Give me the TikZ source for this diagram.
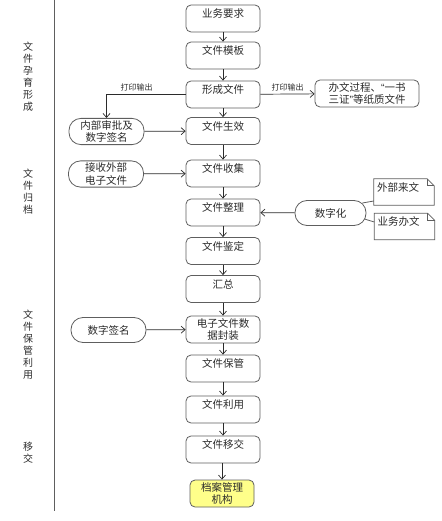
\documentclass[tikz,border=0pt]{standalone}
\usepackage{fontspec}
\setmainfont{Noto Sans CJK SC}
\newfontfamily\latinq{Liberation Sans}
\usetikzlibrary{arrows.meta}
\definecolor{boxline}{HTML}{5E5E5E}
\definecolor{archyel}{HTML}{FFFF8A}
\definecolor{inkgray}{HTML}{2B2B2B}

\begin{document}
\begin{tikzpicture}[
  x=1pt, y=-1pt,
  flow/.style={draw=inkgray, line width=0.7pt, -{Straight Barb[length=4pt, width=7pt]}},
  mainbox/.style={draw=boxline, line width=0.8pt, rounded corners=5pt, minimum width=74pt,
                  minimum height=27pt, inner ysep=2pt, align=center, text=inkgray,
                  font=\fontsize{10.5}{12.5}\selectfont},
  onebox/.style={mainbox, text height=9pt, text depth=10.5pt},
  sidebox/.style={draw=boxline, line width=0.8pt, rounded corners=12pt, minimum width=75pt,
                  minimum height=25pt, inner sep=2pt, align=center, text=inkgray,
                  font=\fontsize{10.5}{12.5}\selectfont},
  docbox/.style={minimum width=60pt, minimum height=26pt, text width=54pt, inner xsep=3pt,
                 inner ysep=2pt, align=left, text height=9pt, text depth=10.5pt, text=inkgray,
                 font=\fontsize{10.5}{12.5}\selectfont},
  docline/.style={draw=boxline, line width=0.8pt},
  stage/.style={align=center, text=inkgray, font=\fontsize{10}{12}\selectfont},
  printlbl/.style={inner sep=1pt, text=inkgray, font=\fontsize{8}{9}\selectfont},
]
\useasboundingbox (0,0) rectangle (441,521);

% Stage column
\draw[boxline, line width=0.9pt] (54,0) -- (54,511);
\node[stage] (st1) at (28,77) {文\\件\\孕\\育\\形\\成};
\node[stage] (st2) at (28,192) {文\\件\\归\\档};
\node[stage] (st3) at (28,345) {文\\件\\保\\管\\利\\用};
\node[stage] (st4) at (28,453) {移\\交};

% ============ Main flow ============
\node[onebox] (req) at (223,18.5) {业务要求};
\node[onebox] (tmpl) at (223,55.5) {文件模板};
\node[onebox] (form) at (223,94.5) {形成文件};
\node[onebox] (valid) at (223,131) {文件生效};
\node[onebox] (collect) at (223,173.5) {文件收集};
\node[onebox] (arrange) at (223,212.5) {文件整理};
\node[onebox] (appraise) at (223,251) {文件鉴定};
\node[onebox] (summ) at (223,289) {汇总};
\node[mainbox] (pack) at (223,329.5) {电子文件数\\据封装};
\node[onebox] (store) at (223,368.5) {文件保管};
\node[onebox] (use) at (223,409.5) {文件利用};
\node[onebox] (transfer) at (223,449.5) {文件移交};
\node[mainbox, fill=archyel, minimum width=64pt] (archive) at (222,493.5) {档案管理\\机构};

\draw[flow] (req) -- (tmpl);
\draw[flow] (tmpl) -- (form);
\draw[flow] (form) -- (valid);
\draw[flow] (valid) -- (collect);
\draw[flow] (collect) -- (arrange);
\draw[flow] (arrange) -- (appraise);
\draw[flow] (appraise) -- (summ);
\draw[flow] (summ) -- (pack);
\draw[flow] (pack) -- (store);
\draw[flow] (store) -- (use);
\draw[flow] (use) -- (transfer);
\draw[flow] ([xshift=-1pt]transfer.south) -- (archive);

% ============ Side inputs ============
\node[sidebox] (approve) at (106.5,131.5) {内部审批及\\数字签名};
\node[sidebox] (receive) at (106,174) {接收外部\\电子文件};
\node[sidebox] (sign) at (108.5,330) {数字签名};
\node[sidebox, minimum width=71pt] (digit) at (330.5,213) {数字化};
\node[mainbox, minimum width=104pt] (paper) at (367,93.5)
  {办文过程、{\latinq “}一书\\三证{\latinq ”}等纸质文件};

\draw[flow] (form.west) -| (approve.north) node[printlbl, pos=0.31, above, yshift=2pt] {打印输出};
\draw[flow] (form) -- (paper) node[printlbl, midway, above, yshift=2pt] {打印输出};
\draw[flow] (approve) -- (valid);
\draw[flow] (receive) -- (collect);
\draw[flow] (sign) -- (pack);
\draw[flow] (digit) -- (arrange);

% Source documents
\node[docbox] (ext) at (404,192) {外部来文};
\node[docbox] (biz) at (404.5,226.5) {业务办文};
\foreach \d in {ext, biz} {
  \draw[docline] (\d.south west) -- (\d.north west) -- ([xshift=-7pt]\d.north east)
    -- ([yshift=-7pt]\d.north east) -- (\d.south east) -- cycle;
  \draw[docline] ([xshift=-7pt]\d.north east) -- ([xshift=-7pt, yshift=-7pt]\d.north east)
    -- ([yshift=-7pt]\d.north east);
}
\draw[docline] ([xshift=-4pt, yshift=10pt]digit.east) -- ([yshift=-9pt]ext.west);
\draw[docline] ([xshift=-2pt, yshift=-6pt]digit.east) -- ([yshift=4.5pt]biz.west);

\end{tikzpicture}
\end{document}
